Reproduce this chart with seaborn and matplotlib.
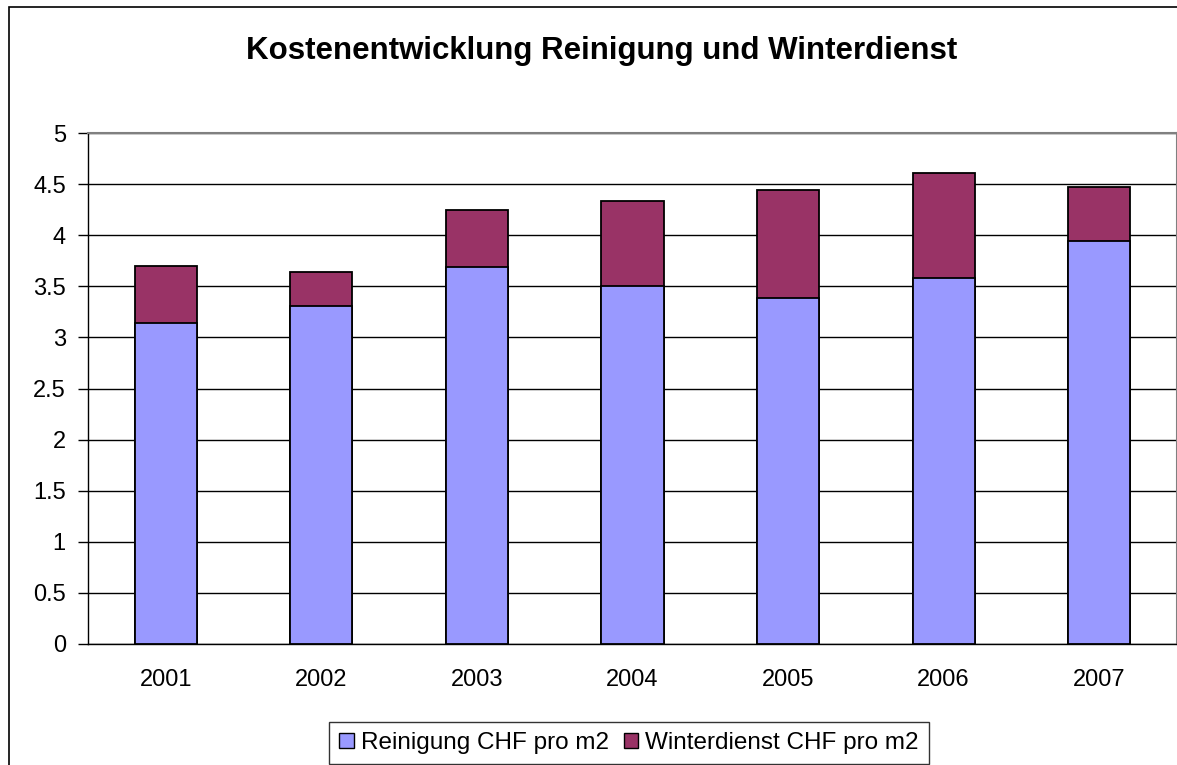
import numpy as np
import pandas as pd
import matplotlib
matplotlib.use("Agg")
import matplotlib.pyplot as plt
from matplotlib.patches import Patch, Rectangle
import seaborn as sns

# Daten
jahre = ["2001", "2002", "2003", "2004", "2005", "2006", "2007"]
reinigung = [3.14, 3.31, 3.69, 3.50, 3.39, 3.58, 3.94]
winterdienst = [0.56, 0.33, 0.56, 0.83, 1.05, 1.03, 0.53]

farbe_rein = "#9999FF"
farbe_winter = "#993366"

df = pd.DataFrame({"Jahr": jahre, "Reinigung": reinigung, "Winterdienst": winterdienst})
df["Total"] = df["Reinigung"] + df["Winterdienst"]

sns.set_style("white")
plt.rcParams["font.family"] = ["Liberation Sans", "DejaVu Sans"]
plt.rcParams["text.color"] = "black"
plt.rcParams["xtick.color"] = "black"
plt.rcParams["ytick.color"] = "black"

fig = plt.figure(figsize=(11.77, 7.65), dpi=100)
ax = fig.add_axes([88 / 1177, 1 - 644 / 765, 1 - 88 / 1177, (644 - 133) / 765])

# gestapelte Balken: zuerst Summe, dann Reinigung darüber
sns.barplot(data=df, x="Jahr", y="Total", color=farbe_winter, width=0.4,
            edgecolor="black", linewidth=1.3, saturation=1, ax=ax, zorder=3)
sns.barplot(data=df, x="Jahr", y="Reinigung", color=farbe_rein, width=0.4,
            edgecolor="black", linewidth=1.3, saturation=1, ax=ax, zorder=3)

ax.set_ylim(0, 5)
ax.set_xlim(-0.5, len(jahre) - 0.5)
ax.set_yticks(np.arange(0, 5.01, 0.5))
ax.set_yticklabels(["0", "0.5", "1", "1.5", "2", "2.5", "3", "3.5", "4", "4.5", "5"])
ax.yaxis.grid(True, color="black", linewidth=1)
ax.set_axisbelow(True)

ax.set_xticks(range(len(jahre)))
ax.set_xticklabels(jahre)
ax.set_xticks(np.arange(-0.5, len(jahre), 1), minor=True)
ax.tick_params(axis="x", which="major", length=0, labelsize=17, pad=18)
ax.tick_params(axis="x", which="minor", length=7, width=1, color="black", direction="out")
ax.tick_params(axis="y", length=7, width=1, color="black", labelsize=17, pad=9, left=True)
ax.set_xlabel("")
ax.set_ylabel("")

for s in ["top", "right"]:
    ax.spines[s].set_color("#808080")
    ax.spines[s].set_linewidth(1.5)
for s in ["left", "bottom"]:
    ax.spines[s].set_color("black")
    ax.spines[s].set_linewidth(1)

fig.text(602 / 1177, 1 - 59 / 765, "Kostenentwicklung Reinigung und Winterdienst",
         ha="center", va="baseline", fontsize=22.5, fontweight="bold")

# Rahmen des Diagramms
fig.patches.append(Rectangle((9 / 1177, -0.1), 1.2, 1.1 - 7 / 765, transform=fig.transFigure,
                             fill=False, edgecolor="black", linewidth=1.2))

handles = [Patch(facecolor=farbe_rein, edgecolor="black", label="Reinigung CHF pro m2"),
           Patch(facecolor=farbe_winter, edgecolor="black", label="Winterdienst CHF pro m2")]
fig.legend(handles=handles, loc="center", bbox_to_anchor=(629 / 1177, 1 - 743 / 765),
           ncol=2, fontsize=17.5, frameon=True, fancybox=False, edgecolor="black",
           handlelength=0.6, handleheight=0.6, handletextpad=0.3, columnspacing=0.6,
           borderpad=0.4)

fig.savefig("out.png", dpi=100)
